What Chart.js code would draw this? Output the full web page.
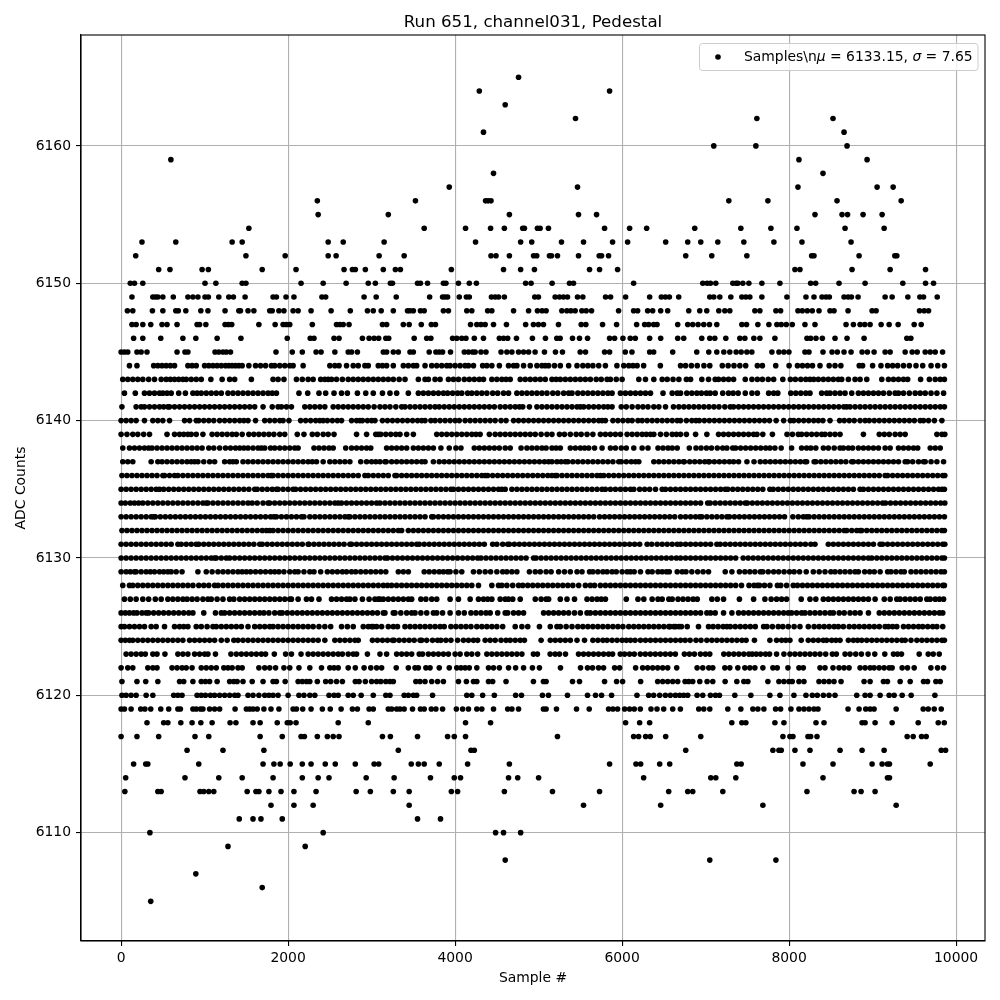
<!DOCTYPE html>
<html><head><meta charset="utf-8">
<style>html,body{margin:0;padding:0;background:#fff}canvas{display:block}</style>
<script src="https://cdn.jsdelivr.net/npm/chart.js@4"></script>
</head><body><canvas id="c" width="1000" height="1000"></canvas>
<script>
const titleText = "Run 651, channel031, Pedestal";
const xLabel = "Sample #";
const yLabel = "ADC Counts";
const seriesLabel = "Samples\\nμ = 6133.15, σ = 7.65";
const xTicks = [0,2000,4000,6000,8000,10000];
const yTicks = [6110,6120,6130,6140,6150,6160];
const s6165=[4760];
const s6164=[4290,5850];
const s6163=[4600];
const s6162=[5442,7614,8526];
const s6161=[4340,8658];
const s6160=[7098,7602,8694];
const s6159=[596,8118,8934];
const s6158=[4460,8406];
const s6157=[3930,5466,8106,9054,9246];
const s6156=[2350,3525,4365,4395,4430,7278,7746,8574,9342];
const s6155=[2360,3200,4650,5478,5694,8310,8634,8700,8886,9114];
const s6154=[1530,3630,4125,4425,4590,4810,4830,4986,5018,5118,5790,6090,6294,6870,7422,7782,8094,8670,9138];
const s6153=[250,655,1330,1450,2480,2660,3150,4245,4785,4918,5274,5538,5886,6066,6522,6786,6942,7146,7458,7818,8154,8742];
const s6152=[175,1495,1965,2480,2575,3090,3390,4430,4490,4650,4940,4978,5130,5154,5226,5478,5726,5754,5838,6762,7074,7494,8270,8298,8838,9266,9290];
const s6151=[450,585,970,1045,1690,2095,2670,2770,2805,2925,3140,3285,3345,3955,4580,4785,4950,5610,5730,5946,8070,8130,8754,9210,9634];
const s6150=[110,160,260,1005,1135,1450,1495,2155,2420,2695,2960,3045,3225,3250,3550,3585,3670,3860,3890,4040,4170,4255,4845,4910,5162,5370,5418,6138,6966,7018,7058,7122,7326,7366,7386,7446,7518,7674,7890,8258,8318,8598,8910,9362,9634,9730];
const s6149=[130,380,410,440,500,625,800,860,920,1005,1045,1170,1290,1345,1485,1820,1860,1975,2070,2405,2450,2910,3055,3295,3695,3850,3880,3910,4050,4135,4170,4435,4480,4520,4590,4954,4998,5198,5250,5298,5346,5466,5530,5802,5862,6042,6330,6470,6518,6566,6678,7050,7098,7170,7302,7434,7482,7530,7674,7974,8202,8298,8394,8442,8482,8658,8706,8746,8826,9150,9234,9422,9566,9610,9774];
const s6148=[75,140,375,500,655,685,775,955,1040,1245,1410,1430,1520,1590,1780,1810,1890,1950,2060,2120,2275,2515,2745,2950,3020,3115,3260,3430,3460,3500,3585,3630,3860,3920,4140,4200,4390,4440,4700,4880,4986,5042,5090,5278,5338,5386,5438,5518,5570,5634,5958,6138,6186,6306,6366,6462,6546,6798,6930,7014,7158,7230,7290,7590,7650,7842,7898,8106,8158,8218,8278,8358,8490,8538,8706,8994,9042,9562,9618,9670];
const s6147=[130,180,260,355,490,550,670,910,940,1015,1245,1285,1325,1650,1845,1940,1980,2020,2290,2580,2620,2660,2730,3130,3180,3380,3450,3595,3715,3765,4185,4260,4310,4360,4460,4615,4845,4938,4998,5058,5238,5510,5566,5766,5934,6174,6270,6318,6378,6418,6666,6786,6846,6910,6978,7046,7134,7434,7490,7626,7758,7854,7906,7966,8038,8190,8310,8682,8770,8850,8906,8970,9102,9198,9306,9498,9582];
const s6146=[150,260,475,740,895,1150,1435,1990,2265,2310,2550,2610,2890,2970,3030,3085,3170,3205,3510,3660,3710,3970,4020,4080,4130,4230,4340,4530,4580,4630,4735,4926,5082,5218,5258,5406,5490,5586,5850,5910,6010,6098,6158,6330,6462,6666,6738,6954,7050,7110,7242,7410,7470,7578,7650,7830,8214,8258,8322,8398,8550,8694,8898,9410,9458];
const s6145=[0,40,80,190,240,310,670,765,800,1125,1170,1220,1260,1310,1855,2050,2170,2335,2395,2560,2720,2760,2830,3140,3180,3260,3320,3460,3500,3690,3770,3810,3850,3945,4110,4160,4210,4240,4310,4370,4550,4620,4680,4760,4820,4880,4958,5070,5202,5286,5498,5562,5790,5850,6038,6118,6330,6378,6606,6894,7038,7134,7218,7290,7366,7426,7494,7554,7794,7878,7938,7998,8190,8238,8406,8514,8578,8658,8742,8874,8938,9018,9150,9210,9390,9474,9534,9630,9690,9750,9838];
const s6144=[100,190,390,440,490,540,590,640,800,850,900,1000,1050,1100,1150,1200,1250,1290,1330,1370,1410,1450,1530,1610,1670,1730,1800,1840,1900,1960,2020,2060,2180,2500,2560,2610,2700,2780,2840,2920,2960,3080,3130,3180,3260,3380,3440,3500,3540,3640,3720,3780,3840,3900,3940,4000,4060,4120,4160,4220,4330,4380,4440,4530,4640,4700,4740,4820,4900,4980,5040,5080,5120,5190,5260,5360,5460,5530,5590,5650,5720,5800,5938,6020,6080,6130,6180,6258,6458,6700,6760,6830,6900,6980,7050,7200,7270,7340,7410,7480,7620,7680,7840,8000,8100,8160,8220,8280,8370,8480,8550,8620,8840,8880,9000,9100,9180,9240,9300,9370,9440,9520,9600,9700,9780,9860];
const s6143=[20,80,140,200,260,330,400,480,540,590,640,690,740,780,840,900,960,1075,1210,1300,1360,1560,1820,1880,1950,2100,2170,2240,2300,2390,2440,2480,2520,2580,2650,2720,2780,2840,2900,2960,3020,3080,3140,3200,3260,3330,3400,3560,3640,3680,3760,3820,3920,3980,4040,4110,4170,4230,4290,4340,4440,4500,4560,4610,4660,4780,4840,4900,4960,5020,5080,5160,5210,5260,5320,5380,5440,5500,5560,5620,5690,5750,5820,5860,5930,6000,6200,6280,6380,6480,6540,6610,6680,6770,6820,6955,7035,7115,7155,7215,7275,7335,7475,7555,7620,7680,7750,7815,7925,8015,8075,8140,8200,8250,8295,8350,8410,8470,8530,8590,8630,8710,8790,8850,8930,9110,9190,9250,9310,9370,9420,9575,9680,9750,9810,9860];
const s6142=[40,170,280,340,400,460,500,550,600,690,770,860,910,960,1020,1080,1140,1200,1280,1340,1400,1460,1520,1580,1640,1700,1760,1810,1860,2130,2235,2370,2450,2550,2640,2710,2830,2930,3020,3130,3220,3300,3440,3560,3620,3680,3740,3800,3860,3910,3970,4030,4080,4150,4200,4260,4320,4380,4450,4510,4580,4640,4740,4800,4860,4920,4980,5040,5100,5170,5230,5300,5360,5400,5470,5530,5590,5650,5710,5770,5830,5880,5980,6040,6100,6160,6220,6280,6340,6490,6600,6660,6700,6775,6835,6895,6950,7010,7055,7115,7205,7275,7330,7390,7475,7555,7620,7755,7815,7865,8020,8080,8140,8200,8250,8390,8450,8490,8550,8610,8670,8750,8830,8890,8950,9010,9070,9130,9200,9270,9310,9370,9440,9510,9570,9630,9700,9770,9850];
const s6141=[10,180,240,280,340,400,460,510,560,580,640,700,760,820,880,940,1000,1060,1120,1180,1240,1300,1360,1420,1480,1540,1600,1700,1810,1880,1920,1980,2040,2200,2260,2320,2380,2440,2540,2600,2660,2720,2780,2840,2900,2960,3030,3100,3160,3220,3290,3360,3400,3460,3520,3580,3640,3700,3760,3810,3870,3930,3990,4050,4110,4170,4230,4290,4350,4410,4470,4540,4600,4660,4720,4770,4810,4890,4980,5040,5100,5160,5220,5280,5340,5400,5460,5500,5540,5600,5660,5720,5780,5830,5880,5990,6050,6120,6190,6250,6310,6380,6440,6520,6680,6615,6740,6800,6860,6920,6980,7040,7100,7160,7230,7295,7335,7395,7455,7515,7575,7635,7695,7755,7815,7875,7935,7995,8055,8115,8175,8235,8295,8355,8415,8475,8535,8595,8655,8690,8730,8790,8850,8910,8970,9030,9090,9150,9210,9270,9330,9390,9450,9510,9570,9630,9690,9750,9810,9860];
const s6140=[0,60,120,180,280,380,440,500,580,760,820,900,930,990,1050,1110,1180,1240,1300,1360,1420,1470,1520,1610,1720,1780,1840,1900,1940,2010,2150,2210,2270,2330,2380,2420,2470,2530,2590,2640,2760,2820,2860,2890,2950,3000,3040,3130,3190,3250,3310,3370,3430,3490,3550,3600,3640,3710,3760,3820,3880,3940,4000,4050,4120,4180,4240,4300,4360,4420,4480,4550,4610,4700,4760,4820,4880,4940,5000,5060,5120,5180,5240,5300,5360,5420,5480,5540,5600,5660,5720,5760,5800,5890,5950,6010,6070,6120,6190,6240,6300,6360,6420,6480,6540,6600,6660,6700,6770,6835,6885,6925,6985,7045,7105,7165,7225,7285,7345,7405,7465,7525,7585,7645,7705,7765,7845,7935,8015,8055,8115,8175,8235,8295,8350,8405,8490,8605,8660,8720,8780,8850,8910,8960,9020,9080,9140,9200,9260,9320,9380,9440,9500,9570,9610,9670,9740,9830];
const s6139=[0,70,140,200,270,340,550,640,700,750,800,840,900,980,1090,1150,1210,1270,1330,1380,1450,1530,1590,1650,1710,1770,1830,1900,1960,2110,2190,2290,2350,2420,2480,2550,2820,2940,3080,3050,3110,3170,3230,3290,3340,3420,3500,3780,3840,3900,3960,4020,4080,4140,4200,4250,4300,4410,4480,4540,4600,4660,4720,4780,4840,4900,4960,5030,5100,5160,5250,5310,5380,5450,5510,5580,5650,5740,5800,5860,5920,5980,6060,6120,6180,6240,6290,6340,6380,6460,6530,6600,6650,6700,6770,6880,7015,7155,7215,7275,7335,7395,7455,7515,7575,7615,7685,7800,7975,8040,8110,8150,8210,8270,8330,8390,8430,8490,8550,8610,8890,9080,9140,9200,9270,9330,9390,9770,9830,9865];
const s6138=[20,100,160,220,280,330,370,430,490,550,610,670,730,790,850,910,970,1050,1110,1180,1250,1310,1370,1420,1470,1520,1580,1640,1680,1720,1790,1840,1900,1960,2020,2080,2120,2310,2370,2430,2490,2540,2690,2760,2820,2880,2940,2990,3180,3240,3300,3360,3420,3500,3560,3620,3680,3740,3830,3930,4010,4070,4230,4290,4350,4410,4470,4530,4600,4660,4790,4860,4920,4980,5040,5090,5160,5210,5260,5380,5440,5500,5550,5600,5670,5760,5860,5920,5990,6050,6140,6240,6310,6430,6490,6550,6600,6660,6805,6885,6945,7010,7070,7140,7205,7255,7325,7360,7420,7480,7540,7600,7660,7720,7770,7830,7905,8030,8150,8210,8260,8320,8410,8470,8540,8610,8650,8710,8760,8830,8890,8950,9010,9070,9150,9210,9310,9370,9430,9490,9540,9690,9750,9810];
const s6137=[20,80,140,360,440,490,550,610,670,730,790,840,880,920,990,1060,1120,1240,1300,1340,1380,1460,1520,1580,1640,1700,1760,1820,1880,1940,2000,2060,2120,2180,2240,2290,2340,2420,2500,2560,2620,2680,2740,2870,2940,3000,3050,3100,3160,3175,3240,3300,3360,3420,3480,3540,3600,3640,3740,3810,3870,3930,3990,4050,4110,4170,4230,4290,4350,4410,4470,4530,4590,4650,4710,4770,4830,4890,4950,5010,5070,5120,5160,5220,5270,5320,5350,5410,5470,5530,5590,5650,5710,5770,5830,5890,5960,5990,6050,6110,6160,6200,6380,6440,6500,6560,6620,6680,6735,6745,6810,6870,6930,6990,7035,7045,7105,7165,7225,7285,7335,7395,7495,7580,7655,7715,7775,7835,7895,7955,8015,8075,8135,8190,8210,8300,8320,8380,8440,8500,8560,8620,8680,8750,8770,8830,8890,8950,9010,9070,9130,9190,9250,9310,9390,9420,9480,9550,9610,9630,9700,9770,9850];
const s6136=[10,70,130,190,250,310,370,430,500,520,580,640,680,740,800,860,920,980,1040,1100,1160,1220,1280,1340,1400,1460,1520,1580,1640,1700,1760,1800,1820,1880,1940,2000,2060,2120,2180,2240,2300,2360,2420,2480,2540,2600,2660,2720,2780,2840,2920,2960,3020,3080,3140,3200,3280,3300,3360,3420,3480,3540,3600,3660,3720,3780,3840,3900,3960,4020,4080,4140,4200,4260,4320,4360,4390,4450,4510,4570,4630,4690,4750,4810,4870,4930,4990,5050,5110,5160,5200,5220,5280,5340,5400,5460,5520,5580,5640,5700,5740,5780,5840,5900,5960,6020,6080,6140,6200,6260,6320,6380,6440,6500,6560,6620,6680,6740,6800,6860,6920,6980,7040,7100,7160,7220,7280,7340,7400,7460,7520,7580,7640,7700,7760,7820,7880,7940,8000,8060,8120,8180,8240,8300,8360,8420,8480,8540,8600,8660,8720,8780,8840,8900,8960,9020,9080,9150,9180,9240,9300,9360,9420,9480,9540,9600,9660,9720,9780,9840,9865];
const s6135=[0,60,120,180,240,300,360,420,460,510,570,630,690,750,810,870,930,990,1050,1110,1170,1230,1290,1350,1410,1470,1530,1600,1630,1690,1750,1810,1860,1880,1940,2000,2060,2090,2150,2210,2270,2330,2390,2450,2510,2570,2630,2690,2750,2810,2870,2930,2990,3050,3110,3170,3230,3290,3350,3410,3470,3530,3590,3650,3710,3770,3830,3890,3950,3980,4040,4100,4160,4220,4280,4340,4400,4460,4520,4560,4600,4680,4740,4800,4860,4920,4980,5040,5100,5160,5220,5280,5340,5400,5460,5520,5580,5640,5700,5760,5800,5860,5920,5980,6040,6100,6140,6210,6270,6330,6400,6480,6520,6580,6640,6700,6760,6820,6880,6940,7000,7060,7120,7180,7235,7265,7325,7385,7445,7505,7565,7625,7685,7770,7810,7870,7930,7990,8050,8110,8170,8230,8290,8350,8410,8470,8530,8590,8650,8710,8770,8850,8890,8950,9010,9070,9130,9190,9250,9310,9370,9430,9490,9550,9610,9670,9730,9790,9830,9860];
const s6134=[0,50,110,160,210,260,320,380,440,500,560,620,680,740,800,860,920,980,1020,1040,1100,1160,1220,1280,1340,1400,1460,1520,1570,1630,1700,1760,1780,1840,1900,1960,2020,2080,2140,2200,2260,2320,2380,2440,2500,2560,2600,2640,2700,2760,2820,2880,2940,3000,3060,3100,3160,3220,3280,3340,3400,3460,3520,3580,3640,3700,3760,3820,3880,3940,4000,4060,4120,4180,4240,4300,4360,4420,4480,4540,4600,4660,4720,4780,4840,4900,4960,5020,5080,5140,5200,5260,5320,5380,5440,5500,5560,5620,5680,5740,5800,5860,5920,5980,6040,6100,6160,6220,6280,6340,6400,6460,6520,6580,6640,6700,6760,6820,6880,6940,7025,7055,7115,7175,7235,7295,7355,7415,7475,7500,7560,7620,7680,7740,7800,7860,7920,7980,8040,8100,8160,8220,8280,8340,8400,8460,8520,8580,8640,8700,8760,8820,8880,8940,9000,9060,9120,9155,9215,9275,9335,9395,9455,9515,9575,9635,9695,9755,9815,9865];
const s6133=[0,60,120,180,240,300,360,390,410,470,530,590,650,710,770,830,890,950,1010,1070,1130,1190,1250,1310,1370,1430,1490,1550,1610,1670,1730,1790,1830,1860,1920,1980,2040,2100,2160,2190,2260,2320,2380,2440,2500,2560,2620,2680,2720,2740,2800,2860,2920,2980,3040,3100,3160,3220,3280,3340,3400,3460,3520,3580,3640,3720,3740,3800,3860,3920,3980,4040,4100,4160,4220,4280,4340,4400,4460,4520,4580,4640,4700,4760,4820,4880,4940,5000,5060,5120,5180,5240,5300,5360,5420,5480,5540,5600,5660,5730,5790,5850,5910,5970,6030,6090,6150,6210,6270,6330,6390,6450,6510,6570,6630,6700,6760,6820,6880,6930,6955,7015,7075,7135,7195,7255,7285,7345,7405,7465,7525,7585,7645,7705,7765,7825,7885,7945,8045,8110,8170,8210,8240,8300,8360,8420,8480,8540,8600,8660,8720,8780,8840,8900,8960,9020,9080,9140,9200,9260,9320,9380,9440,9500,9560,9620,9680,9740,9800,9860];
const s6132=[10,70,130,190,250,310,370,430,490,550,610,670,730,790,850,910,970,1030,1090,1150,1210,1270,1330,1390,1450,1510,1570,1630,1690,1740,1780,1820,1880,1940,2000,2060,2120,2180,2240,2300,2360,2420,2480,2540,2600,2660,2720,2780,2840,2900,2960,3020,3080,3140,3200,3260,3320,3360,3440,3500,3560,3620,3680,3740,3800,3860,3920,3980,4040,4100,4160,4220,4280,4340,4400,4460,4520,4580,4640,4700,4760,4820,4880,4940,5000,5060,5120,5180,5240,5300,5360,5420,5480,5540,5600,5660,5720,5780,5840,5900,5960,6020,6080,6140,6200,6260,6320,6380,6440,6500,6560,6620,6680,6740,6800,6860,6920,6980,7040,7100,7160,7220,7280,7340,7400,7460,7520,7580,7640,7700,7760,7820,7880,7940,8000,8060,8120,8180,8240,8300,8360,8420,8480,8540,8600,8660,8690,8750,8810,8850,8870,8930,8990,9050,9110,9170,9230,9290,9350,9410,9470,9530,9590,9650,9710,9770,9830,9860];
const s6131=[0,60,120,180,240,300,360,420,480,540,600,680,720,780,840,900,930,990,1050,1110,1170,1230,1290,1350,1410,1470,1530,1590,1660,1690,1750,1810,1870,1930,1990,2050,2110,2170,2240,2250,2310,2370,2430,2490,2550,2610,2670,2740,2760,2820,2880,2940,3000,3060,3120,3180,3240,3300,3360,3420,3480,3540,3570,3630,3690,3750,3810,3870,3930,3990,4050,4110,4170,4230,4290,4350,4450,4500,4570,4630,4650,4710,4770,4830,4890,4950,5010,5070,5130,5190,5250,5310,5370,5430,5490,5550,5610,5670,5730,5790,5850,5910,5970,6030,6090,6150,6210,6300,6355,6420,6480,6540,6600,6660,6700,6760,6820,6880,6940,7000,7060,7135,7175,7235,7295,7355,7415,7475,7535,7595,7655,7715,7775,7835,7895,7955,8015,8075,8135,8195,8260,8310,8470,8530,8590,8650,8710,8770,8830,8890,8950,9010,9090,9120,9180,9240,9300,9360,9420,9480,9540,9600,9660,9720,9780,9840,9865];
const s6130=[0,60,120,180,240,300,360,420,480,540,600,660,720,780,840,900,960,1020,1080,1120,1140,1200,1260,1300,1360,1420,1480,1540,1600,1660,1720,1780,1840,1900,1960,2020,2080,2140,2200,2260,2320,2380,2440,2500,2560,2620,2680,2740,2800,2860,2920,2980,3040,3100,3160,3190,3250,3310,3370,3430,3490,3550,3610,3670,3730,3790,3850,3910,3970,4030,4090,4150,4210,4270,4310,4370,4430,4490,4550,4610,4670,4730,4790,4850,4940,4970,5030,5090,5150,5210,5270,5330,5390,5450,5510,5570,5630,5690,5750,5810,5870,5930,5990,6050,6110,6170,6230,6290,6350,6410,6470,6530,6590,6650,6700,6760,6820,6880,6940,7000,7060,7120,7180,7240,7300,7360,7450,7510,7570,7630,7690,7750,7810,7870,7930,7990,8050,8110,8170,8230,8290,8350,8410,8470,8530,8590,8650,8710,8770,8830,8890,8950,8990,9050,9110,9170,9230,9290,9350,9410,9470,9530,9590,9650,9710,9770,9830,9860];
const s6129=[0,60,110,160,180,240,300,350,400,460,510,560,600,660,730,920,1020,1090,1160,1220,1280,1340,1400,1450,1500,1550,1610,1670,1730,1790,1840,1890,1950,2020,2080,2120,2190,2260,2310,2390,2470,2530,2590,2650,2700,2760,2810,2870,2930,2990,3050,3110,3170,3320,3380,3440,3630,3690,3750,3810,3860,3910,3940,4010,4080,4220,4290,4360,4425,4500,4570,4620,4680,4740,4890,4960,5020,5090,5150,5240,5310,5380,5460,5520,5610,5650,5710,5770,5820,5880,5930,6000,6060,6100,6145,6220,6310,6360,6430,6480,6530,6565,6660,6720,6765,6835,6905,6970,7035,7235,7315,7405,7470,7530,7590,7655,7685,7750,7815,7875,7940,8005,8060,8125,8205,8290,8360,8430,8500,8550,8610,8670,8730,8790,8830,8905,8965,9020,9090,9180,9220,9280,9340,9380,9460,9520,9580,9640,9700,9760,9820,9860];
const s6128=[20,100,140,200,260,320,380,440,500,560,620,680,740,800,860,930,990,1050,1120,1160,1220,1280,1340,1400,1460,1520,1580,1640,1700,1760,1820,1880,1940,2000,2060,2120,2180,2240,2300,2360,2420,2480,2540,2600,2660,2720,2780,2840,2900,2960,3020,3080,3140,3190,3240,3300,3360,3420,3480,3540,3600,3660,3720,3780,3840,3900,3960,4020,4080,4140,4200,4280,4440,4520,4560,4620,4690,4760,4810,4870,4930,4990,5050,5110,5170,5230,5290,5350,5410,5480,5560,5620,5670,5740,5800,5860,5920,5980,6040,6100,6160,6220,6280,6340,6400,6460,6520,6580,6640,6700,6760,6820,6880,6940,7000,7060,7120,7180,7240,7300,7360,7430,7520,7580,7620,7645,7705,7770,7860,7900,7970,8050,8100,8160,8220,8280,8340,8400,8460,8520,8580,8640,8700,8760,8820,8880,8940,9000,9060,9120,9180,9240,9300,9360,9420,9480,9540,9600,9660,9720,9780,9840,9860];
const s6127=[40,110,180,260,330,410,480,560,620,680,740,790,850,910,980,1040,1080,1150,1220,1300,1350,1420,1480,1540,1600,1660,1720,1780,1840,1900,1960,2020,2040,2120,2220,2280,2370,2520,2580,2640,2700,2740,2800,2890,2970,3040,3100,3080,3140,3200,3260,3320,3380,3440,3480,3590,3650,3720,3780,3940,4040,4180,4280,4340,4390,4440,4540,4600,4640,4690,4780,4960,5030,5090,5120,5260,5340,5430,5580,5640,5700,5750,5800,6050,6190,6260,6360,6430,6480,6560,6600,6670,6730,6790,6850,6900,7075,7140,7215,7405,7575,7710,7785,7850,7910,7970,8145,8250,8320,8410,8470,8530,8590,8650,8710,8770,8830,8890,8950,9030,9140,9210,9290,9330,9390,9450,9510,9570,9650,9690,9750,9800,9850];
const s6126=[0,50,100,150,190,250,300,330,390,450,510,570,630,690,750,810,860,990,1130,1200,1240,1300,1360,1420,1480,1540,1600,1660,1710,1770,1840,1900,1930,1990,2050,2110,2170,2230,2290,2350,2410,2470,2530,2590,2650,2710,2770,2830,2890,2950,3010,3070,3140,3160,3260,3280,3350,3420,3480,3520,3590,3660,3740,3780,3850,3940,4040,4110,4190,4250,4310,4370,4420,4510,4600,4630,4700,4760,4820,5060,5120,5180,5240,5300,5360,5430,5500,5580,5620,5680,5740,5800,5860,5920,5980,6040,6100,6160,6220,6280,6340,6400,6460,6520,6580,6640,6700,6760,6820,6880,6940,7015,7060,7115,7215,7315,7395,7455,7515,7575,7635,7695,7755,7815,7875,7935,7990,8030,8090,8150,8190,8250,8310,8370,8430,8490,8530,8600,8660,8730,8790,8850,8950,9080,9140,9200,9260,9320,9380,9440,9500,9560,9620,9680,9740,9800,9840];
const s6125=[0,40,100,160,220,280,360,420,520,640,700,750,800,900,960,1030,1100,1140,1200,1260,1320,1380,1440,1520,1600,1660,1720,1780,1820,1880,1940,2000,2060,2120,2180,2240,2300,2370,2440,2510,2640,2710,2780,2900,2960,3020,3060,3000,3120,3200,3260,3310,3400,3460,3520,3580,3640,3700,3760,3820,3870,3950,4010,4070,4130,4190,4260,4320,4380,4440,4500,4570,4720,4800,4870,5010,5140,5220,5260,5330,5400,5470,5530,5590,5650,5710,5770,5830,5890,5950,6010,6080,6140,6200,6260,6320,6380,6440,6500,6560,6620,6680,6575,6640,6710,6780,6915,7035,7090,7150,7210,7255,7295,7355,7415,7475,7535,7595,7695,7735,7800,7870,7925,7990,8060,8130,8230,8300,8360,8420,8480,8540,8590,8650,8720,8780,8840,8900,8960,9020,9080,9150,9190,9240,9290,9370,9430,9490,9550,9600,9660,9720,9770,9840];
const s6124=[0,50,100,140,200,260,320,380,440,500,560,620,680,740,820,880,940,1000,1060,1120,1200,1270,1350,1400,1460,1520,1580,1640,1700,1760,1820,1880,1940,2000,2060,2120,2180,2240,2300,2360,2440,2560,2620,2680,2740,2800,2840,3010,3070,3130,3190,3250,3270,3330,3390,3450,3510,3580,3600,3660,3730,3790,3830,3890,3950,4030,4100,4160,4220,4270,4360,4420,4480,4550,4610,4660,4720,4780,4830,5030,5140,5200,5260,5320,5380,5460,5550,5650,5710,5770,5820,5880,5940,6000,6050,6100,6155,6220,6280,6340,6400,6460,6520,6580,6640,6700,6755,6815,6885,6945,7015,7075,7135,7195,7255,7315,7375,7435,7485,7585,7770,7850,7910,7960,8010,8145,8230,8290,8350,8410,8450,8510,8560,8610,8710,8770,8820,8870,8930,8990,9050,9110,9170,9230,9290,9350,9390,9460,9530,9590,9650,9710,9770,9830,9860];
const s6123=[60,120,180,240,290,380,430,525,680,740,800,880,940,1000,1040,1130,1315,1380,1440,1500,1560,1620,1680,1730,1835,1970,2040,2155,2240,2300,2360,2420,2480,2540,2600,2650,2720,2780,2820,2950,3100,3180,3300,3360,3420,3480,3570,3610,3680,3740,3800,3860,3920,4000,4060,4140,4200,4270,4380,4440,4500,4560,4620,4680,4740,4800,4938,4986,5138,5198,5250,5322,5478,5538,5598,5658,5718,5778,5838,5886,5978,6030,6090,6146,6218,6278,6338,6398,6458,6518,6578,6638,6746,6806,6866,6938,6998,7050,7218,7278,7338,7398,7458,7518,7558,7606,7658,7718,7766,7850,7938,8010,8070,8130,8190,8250,8310,8370,8438,8518,8566,8670,8730,8798,8866,8946,9026,9146,9250,9298,9346,9558,9666,9726,9798];
const s6122=[0,80,140,320,380,430,610,670,730,780,850,960,1020,1080,1140,1230,1280,1330,1400,1450,1650,1720,1780,1850,1950,2020,2130,2260,2400,2500,2550,2600,2720,2805,2910,2990,3060,3120,3295,3440,3520,3560,3650,3700,3810,3930,4020,4070,4120,4170,4260,4400,4460,4530,4640,4725,4820,4926,5010,5262,5502,5586,5646,5718,5778,5910,5970,6162,6246,6306,6366,6426,6486,6546,6654,6898,6966,7038,7086,7230,7290,7386,7470,7530,7590,7686,7806,7858,7986,8118,8170,8370,8430,8526,8598,8658,8718,8850,8910,8970,9018,9078,9138,9198,9234,9354,9418,9498,9698,9778,9850];
const s6121=[10,190,295,440,700,750,860,960,1010,1060,1150,1300,1350,1390,1460,1570,1700,1820,1860,1965,2120,2170,2220,2260,2350,2450,2510,2580,2650,2805,2850,2925,3000,3060,3110,3170,3220,3260,3530,3580,3640,3720,3790,3860,4040,4135,4220,4260,4400,4450,4610,4938,5058,5090,5406,5490,5790,5934,6006,6222,6426,6486,6546,6606,6666,6754,6798,6846,6930,7018,7086,7234,7374,7458,7506,7746,7878,7938,7998,8038,8118,8178,8358,8418,8478,8538,8622,8898,8970,9130,9178,9330,9450,9610,9658,9758,9810];
const s6120=[10,60,120,180,300,380,630,680,730,910,960,1010,1070,1120,1180,1240,1300,1360,1400,1520,1580,1650,1720,1770,1820,1880,2000,2130,2190,2260,2320,2490,2550,2600,2720,2780,2875,3020,3170,3220,3390,3440,3500,3540,3730,4140,4200,4330,4470,4725,4795,5046,5118,5346,5586,5682,5754,5874,6178,6318,6378,6450,6518,6578,6638,6690,6738,6786,6898,6966,7058,7118,7166,7350,7542,7770,7890,8058,8202,8278,8338,8410,8478,8550,8810,8910,8970,9090,9198,9258,9354,9462,9746];
const s6119=[0,40,120,235,285,355,475,570,680,710,860,900,950,980,1060,1120,1180,1365,1500,1540,1580,1630,1710,1795,1890,2060,2100,2175,2275,2410,2505,2635,2770,2830,2970,3020,3200,3240,3300,3340,3390,3490,3585,3630,3715,3770,3850,4015,4090,4160,4260,4320,4460,4630,4680,4760,5058,5090,5214,5454,5606,5838,5890,5946,6030,6090,6146,6218,6346,6418,6498,6606,6698,6918,6978,7050,7266,7422,7566,7626,7698,7838,7898,8022,8118,8178,8238,8298,8346,8706,8838,8918,8970,9018,9282,9606,9666,9738,9822];
const s6118=[310,510,560,715,850,955,1090,1305,1375,1580,1665,1870,1990,2025,2095,2600,2960,4125,4425,6042,6210,6330,7314,7434,7482,7830,7938,8322,8418,8874,8910,9030,9234,9546,9786,9858];
const s6117=[0,190,450,885,1050,1665,1930,2155,2195,2350,2470,2540,2610,3130,3225,3550,3910,3990,4125,5226,6138,6198,6282,6338,6522,6942,7926,8010,8046,8226,8258,8334,9414,9486,9586,9642];
const s6116=[790,1220,1710,3320,4190,4230,6762,7806,7878,7906,8070,8250,8610,8874,9138,9822,9874];
const s6115=[150,295,320,930,1700,1830,1905,2025,2170,2275,2445,2565,2805,3030,3085,3475,3560,3630,3810,4150,4650,5850,6166,6222,6450,6570,7374,7426,8166,8526,8994,9114,9178,9202,9690];
const s6114=[55,765,1170,1450,1820,2170,2360,2490,2935,3270,3705,3990,4065,4640,4750,5000,6258,7062,7122,7362,8406,9178,9202];
const s6113=[45,440,480,945,990,1050,1110,1510,1615,1650,1770,1915,2070,2335,2815,2985,3260,3450,3955,4030,4590,5166,5730,6558,6786,6846,7206,8214,8778,8862,9030];
const s6112=[1795,2070,2300,3450,5538,6462,7686,9282];
const s6111=[1415,1580,1675,1930,3550,3825];
const s6110=[345,2420,4485,4580,4785];
const s6109=[1280,2205];
const s6108=[4600,7050,7842];
const s6107=[895];
const s6106=[1690];
const s6105=[355];
const levels=[6105,6106,6107,6108,6109,6110,6111,6112,6113,6114,6115,6116,6117,6118,6119,6120,6121,6122,6123,6124,6125,6126,6127,6128,6129,6130,6131,6132,6133,6134,6135,6136,6137,6138,6139,6140,6141,6142,6143,6144,6145,6146,6147,6148,6149,6150,6151,6152,6153,6154,6155,6156,6157,6158,6159,6160,6161,6162,6163,6164,6165];
const rows=[s6105,s6106,s6107,s6108,s6109,s6110,s6111,s6112,s6113,s6114,s6115,s6116,s6117,s6118,s6119,s6120,s6121,s6122,s6123,s6124,s6125,s6126,s6127,s6128,s6129,s6130,s6131,s6132,s6133,s6134,s6135,s6136,s6137,s6138,s6139,s6140,s6141,s6142,s6143,s6144,s6145,s6146,s6147,s6148,s6149,s6150,s6151,s6152,s6153,s6154,s6155,s6156,s6157,s6158,s6159,s6160,s6161,s6162,s6163,s6164,s6165];

const points=[];
rows.forEach((r,i)=>r.forEach(x=>points.push({x:x,y:levels[i]})));

const FONT='"DejaVu Sans"';
const legendBox={
  id:'legendBox',
  afterDatasetsDraw(chart){
    const c=chart.ctx;
    c.save();
    c.beginPath();
    c.roundRect(699.5,43.5,278.5,27,3);
    c.fillStyle='rgba(255,255,255,0.8)';c.fill();
    c.strokeStyle='#cccccc';c.lineWidth=1;c.stroke();
    c.beginPath();c.arc(718,57,2.8,0,Math.PI*2);c.fillStyle='#000';c.fill();
    c.textBaseline='middle';c.textAlign='left';
    const normal='13.9px '+FONT, ital='italic 13.9px '+FONT;
    const parts=seriesLabel.split(/([μσ])/);
    let x=744;
    parts.forEach(p=>{
      c.font=(p==='μ'||p==='σ')?ital:normal;
      c.fillStyle='#000';
      c.fillText(p,x,57);
      x+=c.measureText(p).width;
    });
    c.restore();
  }
};
const gridOpts={color:'#b0b0b0',lineWidth:1.1,tickColor:'#000',tickLength:5,tickWidth:1.1,drawOnChartArea:true};
const fit={xH:58,yW:81,padR:15,titleB:2};
const chart=new Chart(document.getElementById('c'),{
  type:'scatter',
  data:{datasets:[{label:seriesLabel,data:points,pointRadius:2.8,pointHoverRadius:2.8,pointBackgroundColor:'#000',pointBorderWidth:0,showLine:false}]},
  options:{
    responsive:false,animation:false,events:[],
    layout:{padding:{left:0,right:fit.padR,top:0,bottom:0}},
    plugins:{
      legend:{display:false},tooltip:{enabled:false},
      title:{display:true,fullSize:false,text:titleText,color:'#000',font:{family:FONT,size:16.67,weight:'normal',lineHeight:1.2},padding:{top:13,bottom:fit.titleB}}
    },
    scales:{
      x:{type:'linear',min:-479,max:10347,
        afterBuildTicks(s){s.ticks=xTicks.map(v=>({value:v}));},
        afterFit(s){s.height=fit.xH;},
        grid:gridOpts,border:{color:'#000',width:1.1},
        ticks:{color:'#000',font:{family:FONT,size:13.9},padding:4,maxRotation:0,autoSkip:false,callback:v=>String(v)},
        title:{display:true,text:xLabel,color:'#000',font:{family:FONT,size:13.9},padding:{top:0,bottom:13}}},
      y:{type:'linear',min:6102.06,max:6168.05,
        afterBuildTicks(s){s.ticks=yTicks.map(v=>({value:v}));},
        afterFit(s){s.width=fit.yW;},
        grid:gridOpts,border:{color:'#000',width:1.1},
        ticks:{color:'#000',font:{family:FONT,size:13.9},padding:5,autoSkip:false,callback:v=>String(v)},
        title:{display:true,text:yLabel,color:'#000',font:{family:FONT,size:13.9},padding:{top:13,bottom:0}}}
    }
  },
  plugins:[legendBox,{id:'frame',afterDraw(ch){const a=ch.chartArea,c=ch.ctx;c.save();c.strokeStyle='#000';c.lineWidth=1.1;c.strokeRect(a.left,a.top,a.right-a.left,a.bottom-a.top);c.restore();}}]
});
// settle the plot frame on the reference's box, then set axis limits so ticks land where they do in the reference
for(let i=0;i<3;i++){
  const a=chart.chartArea;
  fit.yW+=81-a.left;
  fit.padR+=a.right-985;
  fit.xH+=a.bottom-941;
  fit.titleB+=35-a.top;
  chart.options.layout.padding.right=fit.padR;
  chart.options.plugins.title.padding.bottom=fit.titleB;
  chart.update('none');
}
const A=chart.chartArea;
const kx=(956.1-121.1)/10000, ky=(832.65-145.9)/50;
chart.options.scales.x.min=(A.left-121.1)/kx;
chart.options.scales.x.max=(A.right-121.1)/kx;
chart.options.scales.y.max=6160+(145.9-A.top)/ky;
chart.options.scales.y.min=6160-(A.bottom-145.9)/ky;
chart.update('none');
</script></body></html>
